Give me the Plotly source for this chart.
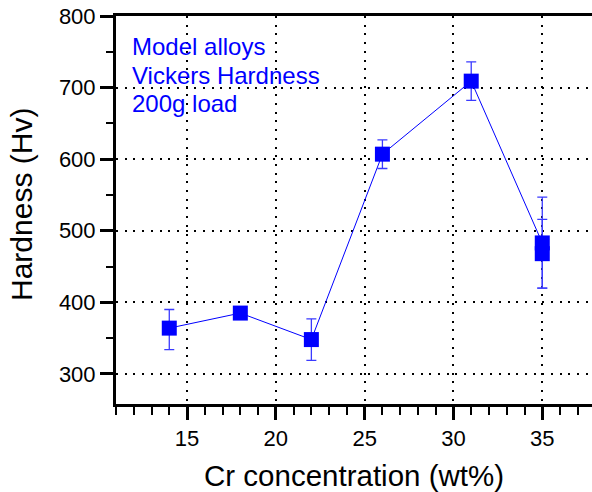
import plotly.graph_objects as go

# Vickers hardness of model alloys vs Cr content
cr_wt = [14, 18, 22, 26, 31, 35, 35]
hardness = [364, 385, 348, 607, 709, 483, 468]
err_plus = [26, 5, 29, 20, 27, 64, 48]
err_minus = [30, 5, 29, 20, 27, 63, 48]

x_ticks = [15, 20, 25, 30, 35]
y_ticks = [300, 400, 500, 600, 700, 800]

note_lines = ["Model alloys", "Vickers Hardness", "200g load"]

FONT = "Liberation Sans, Arial, Helvetica, sans-serif"
BLUE = "#0000ff"

TOP, BOTTOM, LEFT = 16, 88, 116
H, W = 492, 592
PLOT_H = H - TOP - BOTTOM

fig = go.Figure()
fig.add_trace(go.Scatter(
    x=cr_wt, y=hardness,
    mode="lines+markers",
    line=dict(color=BLUE, width=1),
    marker=dict(symbol="square", size=15, color=BLUE, line=dict(width=0)),
    error_y=dict(type="data", symmetric=False, array=err_plus, arrayminus=err_minus,
                 color="#3a3aff", thickness=1.3, width=5),
    showlegend=False,
))

grid = dict(showgrid=True, gridcolor="black", gridwidth=1.6, griddash="2px,6.7px")

fig.update_xaxes(
    range=[11, 37.8], tickvals=x_ticks, ticks="outside", ticklen=13, tickwidth=2.5,
    tickcolor="black", showline=True, linewidth=3, linecolor="black", mirror=True,
    zeroline=False, tickfont=dict(family=FONT, size=22, color="black"),
    minor=dict(dtick=1, tick0=0, ticks="outside", ticklen=8, tickwidth=2.2,
               tickcolor="black", showgrid=False),
    **grid,
)
fig.update_yaxes(
    range=[258, 800], tickvals=y_ticks, ticks="outside", ticklen=13, tickwidth=2.5,
    tickcolor="black", showline=True, linewidth=3, linecolor="black", mirror=False,
    zeroline=False, tickfont=dict(family=FONT, size=22, color="black"),
    minor=dict(dtick=50, tick0=0, ticks="outside", ticklen=7, tickwidth=2.2,
               tickcolor="black", showgrid=False),
    **grid,
)

fig.add_annotation(
    text="Cr concentration (wt%)", xref="paper", yref="paper", x=0.5, y=0,
    xanchor="center", yanchor="middle", yshift=-71, showarrow=False,
    font=dict(family=FONT, size=29.5, color="black"),
)
fig.add_annotation(
    text="Hardness (Hv)", xref="paper", yref="paper", x=0, y=0.5,
    xanchor="center", yanchor="middle", xshift=-95, yshift=5, textangle=-90,
    showarrow=False, font=dict(family=FONT, size=30, color="black"),
)

# three-line note in the upper-left corner of the plot
for i, line in enumerate(note_lines):
    py = 46.5 + 28.7 * i
    fig.add_annotation(
        text=line, xref="paper", yref="paper",
        x=0, y=1 - (py - TOP) / PLOT_H, xanchor="left", yanchor="middle", xshift=14,
        showarrow=False, font=dict(family=FONT, size=24, color=BLUE),
    )

fig.update_layout(
    width=W, height=H,
    margin=dict(l=LEFT, r=0, t=TOP, b=BOTTOM),
    paper_bgcolor="white", plot_bgcolor="white",
)

fig.write_html("out.html")
